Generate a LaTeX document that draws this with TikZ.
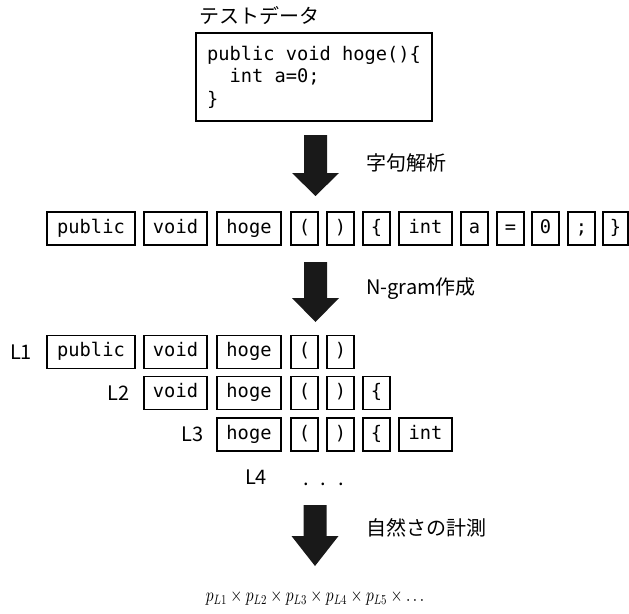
\documentclass[tikz,border=0pt]{standalone}
\usepackage{fix-cm}
\usepackage{fontspec}
\newfontfamily\jpfont{Noto Sans CJK JP}
\newfontfamily\codefont{DejaVu Sans Mono}
\DeclareFontShape{OML}{cmm}{m}{it}{<->cmmi10}{}
\DeclareFontShape{OMS}{cmsy}{m}{n}{<->cmsy10}{}
\tikzset{
  tok/.style={draw, line width=1.1pt, inner sep=1pt,
    font=\codefont\fontsize{18.7}{22}\selectfont,
    text height=13pt, text depth=4pt, minimum height=33pt},
  codebox/.style={draw, line width=1.1pt, minimum width=236pt, minimum height=88pt,
    align=left, font=\codefont\fontsize{18.7}{22.5}\selectfont},
  jplabel/.style={font=\jpfont\fontsize{20}{24}\selectfont, inner sep=0pt},
  rowlabel/.style={font=\jpfont\fontsize{20}{24}\selectfont, inner sep=0pt},
  % block arrow pointing down: #1 = shaft length, #2 = total length
  pics/blockarrow/.style 2 args={code={
    \fill[black!90] (-11.5,0) -- (11.5,0) -- (11.5,#1) -- (23.5,#1) -- (0,#2)
      -- (-23.5,#1) -- (-11.5,#1) -- cycle;}}
}
% token box: name, left x, right x, centre y, text
\newcommand\tokat[5]{\node[tok, minimum width={(#3-#2)*1pt}] (#1) at ({(#2+#3)/2},#4) {#5};}
\begin{document}
\begin{tikzpicture}[x=1pt, y=-1pt]
\useasboundingbox (0,0) rectangle (629,613);

% source code
\node[jplabel] (title) at (259,16) {テストデータ};
\node[codebox] (code) at (314,77) {public void hoge()\{\\\ \ int a=0;\\\}};

% lexical analysis
\pic (lexarrow) at (315.5,135) {blockarrow={38}{61}};
\node[jplabel, anchor=west] (lexlabel) at (366,163) {字句解析};

\tokat{t1}{47}{135}{228.5}{public}
\tokat{t2}{144}{207}{228.5}{void}
\tokat{t3}{217}{281}{228.5}{hoge}
\tokat{t4}{291}{318}{228.5}{(}
\tokat{t5}{327}{354}{228.5}{)}
\tokat{t6}{363}{390}{228.5}{\{}
\tokat{t7}{399}{452}{228.5}{int}
\tokat{t8}{461}{488}{228.5}{a}
\tokat{t9}{497}{524}{228.5}{=}
\tokat{t10}{532}{559}{228.5}{0}
\tokat{t11}{568}{595}{228.5}{;}
\tokat{t12}{603}{628}{228.5}{\}}

% n-gram construction
\pic (ngramarrow) at (315.5,262) {blockarrow={36}{60}};
\node[jplabel, anchor=west] (ngramlabel) at (366,289) {N-gram作成};

\node[rowlabel] (L1) at (21,352) {L1};
\tokat{ga1}{47}{135}{352}{public}
\tokat{ga2}{144}{207}{352}{void}
\tokat{ga3}{217}{281}{352}{hoge}
\tokat{ga4}{291}{318}{352}{(}
\tokat{ga5}{327}{354}{352}{)}

\node[rowlabel] (L2) at (118.5,393) {L2};
\tokat{gb1}{144}{207}{393}{void}
\tokat{gb2}{217}{281}{393}{hoge}
\tokat{gb3}{291}{318}{393}{(}
\tokat{gb4}{327}{354}{393}{)}
\tokat{gb5}{363}{390}{393}{\{}

\node[rowlabel] (L3) at (192.5,434.5) {L3};
\tokat{gc1}{217}{281}{434.5}{hoge}
\tokat{gc2}{291}{318}{434.5}{(}
\tokat{gc3}{327}{354}{434.5}{)}
\tokat{gc4}{363}{390}{434.5}{\{}
\tokat{gc5}{399}{452}{434.5}{int}

\node[rowlabel] (L4) at (256,477) {L4};
\node[rowlabel] (more) at (323.5,484) {.\hspace{12pt}.\hspace{12pt}.};

% naturalness measurement
\pic (probarrow) at (315,505) {blockarrow={31}{61}};
\node[jplabel, anchor=west] (problabel) at (366,528) {自然さの計測};

\node[font=\fontsize{15.5}{19}\selectfont, inner sep=0pt] (prob) at (315,598)
  {\scalebox{1}[1.25]{$p_{L1}\times p_{L2}\times p_{L3}\times p_{L4}\times p_{L5}\times\ldots$}};
\end{tikzpicture}
\end{document}
